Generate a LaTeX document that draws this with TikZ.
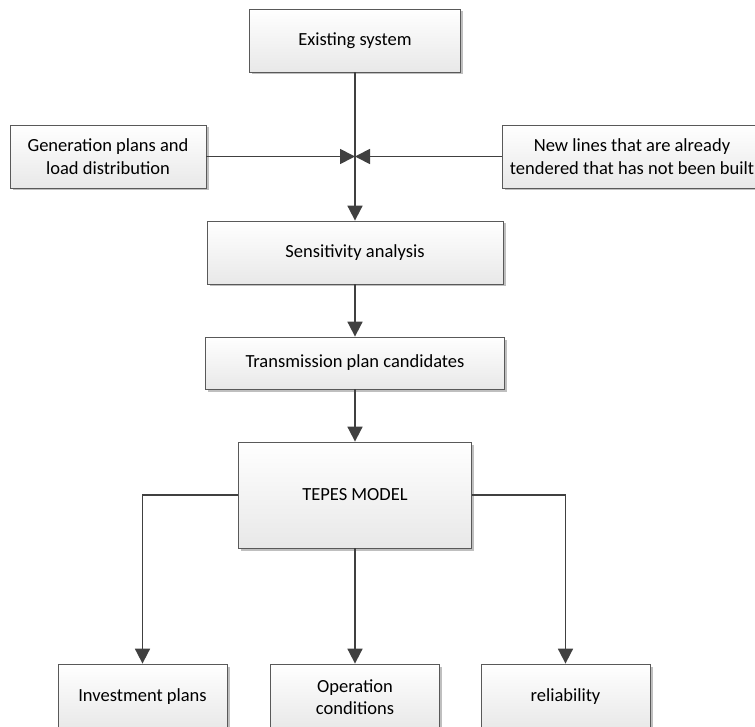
\documentclass[tikz,border=0pt]{standalone}
\usepackage{fontspec}
\setmainfont{Carlito}
\usepackage{tikz}
\usetikzlibrary{arrows.meta, positioning, shadows}

\begin{document}
\begin{tikzpicture}[x=1pt,y=-1pt]
\tikzset{box/.style = {draw=black!65, line width=0.8pt, top color=white, bottom color=black!9,
  drop shadow={shadow xshift=2.5pt, shadow yshift=-2.5pt, fill=black!25, opacity=1},
  align=center, font=\fontsize{18.5}{22.5}\selectfont, inner sep=0pt}}
\tikzset{flow/.style = {draw=black!75, line width=1.8pt, -{Triangle[length=15pt,width=15pt]}}}
\useasboundingbox (0,0) rectangle (755,727);
% boxes
\node[box, minimum width=211pt, minimum height=63pt] (exist) at (355,40.5) {Existing system};
\node[box, minimum width=196pt, minimum height=63pt] (gen) at (108,156.5) {Generation plans and\\load distribution};
\node[box, minimum width=260pt, minimum height=63pt] (newl) at (632,156.5) {New lines that are already\\tendered that has not been built};
\node[box, minimum width=296pt, minimum height=63pt] (sens) at (355,252.5) {Sensitivity analysis};
\node[box, minimum width=299pt, minimum height=52pt] (trans) at (355,363) {Transmission plan candidates};
\node[box, minimum width=233pt, minimum height=106pt] (tepes) at (355,495) {};
\node[font=\fontsize{18.5}{22.5}\selectfont] (tepeslbl) at (355,495) {TEPES MODEL};
\node[box, minimum width=169pt, minimum height=66pt] (inv) at (142.5,697) {Investment plans};
\node[box, minimum width=169pt, minimum height=66pt] (oper) at (355,697) {Operation\\conditions};
\node[box, minimum width=169pt, minimum height=66pt] (rel) at (565.5,697) {reliability};
\coordinate (j) at (355,156.5);
%edges
\draw[flow] (exist.south) -- (sens.north);
\draw[flow] (gen.east) -- (j);
\draw[flow] (newl.west) -- (j);
\draw[flow] (sens.south) -- (trans.north);
\draw[flow] (trans.south) -- (tepes.north);
\draw[flow] (tepes.west) -| (inv.north);
\draw[flow] (tepes.south) -- (oper.north);
\draw[flow] (tepes.east) -| (rel.north);
\end{tikzpicture}
\end{document}
